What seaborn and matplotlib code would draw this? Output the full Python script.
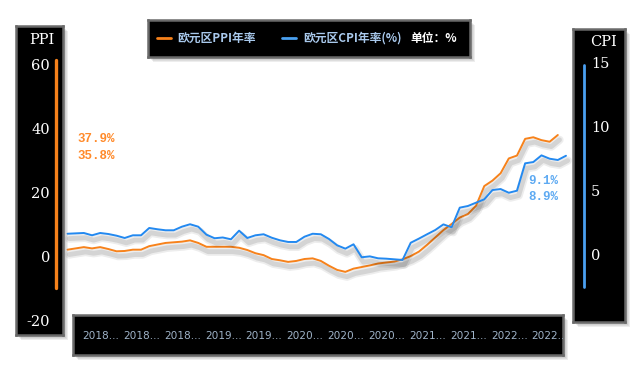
import numpy as np
import pandas as pd
import matplotlib
matplotlib.use("Agg")
import matplotlib.pyplot as plt
import matplotlib.patheffects as pe
from matplotlib.patches import Rectangle
from matplotlib.lines import Line2D
import seaborn as sns

# monthly data, Jul 2017 .. Aug 2022
months = pd.date_range("2017-07-01", "2022-08-01", freq="MS").strftime("%Y-%m").tolist()
ppi = [2.2, 2.6, 3.0, 2.6, 3.0, 2.4, 1.7, 1.8, 2.2, 2.2,
       3.3, 3.8, 4.3, 4.5, 4.7, 5.1, 4.3, 3.1, 3.1, 3.1,
       3.1, 2.8, 2.1, 1.1, 0.5, -0.7, -1.1, -1.6, -1.3, -0.7,
       -0.5, -1.3, -2.8, -4.1, -4.7, -3.7, -3.2, -2.7, -2.1, -1.8,
       -1.5, -0.8, 0.2, 1.6, 3.7, 6.0, 8.3, 10.2, 12.2, 13.3,
       15.9, 22.0, 23.7, 26.0, 30.6, 31.5, 36.7, 37.2, 36.3, 35.8,
       37.9, np.nan]
cpi = [1.79, 1.82, 1.85, 1.67, 1.85, 1.77, 1.64, 1.46, 1.67, 1.67,
       2.24, 2.14, 2.06, 2.06, 2.34, 2.53, 2.34, 1.72, 1.44, 1.50,
       1.36, 2.03, 1.46, 1.67, 1.75, 1.48, 1.28, 1.15, 1.15, 1.56,
       1.79, 1.75, 1.38, 0.89, 0.63, 0.97, -0.04, 0.03, -0.12, -0.15,
       -0.20, -0.25, 1.09, 1.41, 1.75, 2.08, 2.52, 2.29, 3.82, 3.95,
       4.21, 4.47, 5.19, 5.27, 4.98, 5.14, 7.27, 7.37, 7.89, 7.63,
       7.53, 7.86]
ppi_latest = ["37.9%", "35.8%"]
cpi_latest = ["9.1%", "8.9%"]
legend_labels = ["欧元区PPI年率", "欧元区CPI年率(%)"]
unit_label = "单位：%"
ppi_ticks = [60, 40, 20, 0, -20]
cpi_ticks = [15, 10, 5, 0]

df = pd.DataFrame({"month": months, "ppi": ppi, "cpi": cpi})
df["idx"] = np.arange(len(df))

sns.set_style("white")
plt.rcParams['font.family'] = ['Noto Sans CJK SC', 'DejaVu Sans']

ORANGE = '#f7821b'
BLUE = '#2389f0'
W, H = 638, 383


def box(x0, y0, x1, y1):
    return [x0 / W, 1 - y1 / H, (x1 - x0) / W, (y1 - y0) / H]


def shadow(fig, x0, y0, x1, y1):
    for k in (2, 3, 4, 5):
        fig.add_artist(Rectangle((x0 / W + k / W, 1 - (y1 + k) / H),
                                 (x1 - x0) / W, (y1 - y0) / H,
                                 transform=fig.transFigure, facecolor='#777777',
                                 edgecolor='none', alpha=0.13, zorder=2))


def panel(fig, x0, y0, x1, y1):
    shadow(fig, x0, y0, x1, y1)
    a = fig.add_axes(box(x0, y0, x1, y1), zorder=2.5)
    a.set_facecolor('black')
    for s in a.spines.values():
        s.set_color('#6a6a6a')
        s.set_linewidth(1.8)
    a.set_xticks([])
    a.set_yticks([])
    return a


fig = plt.figure(figsize=(6.38, 3.83), dpi=100)

# main plot (x: 67.5px + 8.172px per month, PPI: 0 at 256.75px, 3.2125px per unit)
ax = fig.add_axes(box(60, 55, 575, 320), zorder=0)
step, x0px, y0px, ppx = 8.172, 67.5, 256.75, 3.2125
xlim = ((60 - x0px) / step, (575 - x0px) / step)
ylim = ((y0px - 320) / ppx, (y0px - 55) / ppx)

shadow_fx = [pe.SimpleLineShadow(offset=(1.2, -3.5), shadow_color='black', alpha=0.07, linewidth=6),
             pe.SimpleLineShadow(offset=(1.2, -3.5), shadow_color='black', alpha=0.1, linewidth=3.5),
             pe.Normal()]

sns.lineplot(data=df, x='idx', y='ppi', ax=ax, color=ORANGE, linewidth=1.4)
ax2 = ax.twinx()
sns.lineplot(data=df, x='idx', y='cpi', ax=ax2, color=BLUE, linewidth=1.4)
for a, lim in ((ax, ylim), (ax2, (ylim[0] / 4, ylim[1] / 4))):
    a.set_xlim(xlim)
    a.set_ylim(lim)
    a.axis('off')
    for ln in a.lines:
        ln.set_path_effects(shadow_fx)

# latest values
mono = dict(family='Liberation Mono', weight='bold', fontsize=9)
fig.text(77 / W, 1 - 139.5 / H, ppi_latest[0], color='#ff8a2a', va='center', ha='left', **mono)
fig.text(77 / W, 1 - 156 / H, ppi_latest[1], color='#ff8a2a', va='center', ha='left', **mono)
fig.text(558 / W, 1 - 181 / H, cpi_latest[0], color='#5eaaf2', va='center', ha='right', **mono)
fig.text(558 / W, 1 - 197.5 / H, cpi_latest[1], color='#5eaaf2', va='center', ha='right', **mono)

serif = dict(family='DejaVu Serif', fontsize=10.5, color='white')

# left PPI panel
lp = panel(fig, 16, 26, 63, 335)
lp.set_ylim((y0px - 335) / ppx, (y0px - 26) / ppx)
lp.set_xlim(0, 1)
lp.set_yticks(ppi_ticks)
lp.set_yticklabels([str(t) for t in ppi_ticks], **serif)
lp.tick_params(axis='y', length=0, pad=-24.5)
lp.axvline(0.845, ymin=0.152, ymax=0.89, color=ORANGE, linewidth=2.4)
lp.text(0.55, 0.955, 'PPI', transform=lp.transAxes, ha='center', va='center', **serif)

# right CPI panel (0 at 254.5px, 12.767px per unit)
rp = panel(fig, 573, 29, 625, 322)
rp.set_ylim((254.5 - 322) / 12.767, (254.5 - 29) / 12.767)
rp.set_xlim(0, 1)
rp.yaxis.tick_right()
rp.set_yticks(cpi_ticks)
rp.set_yticklabels([str(t) for t in cpi_ticks], **serif)
rp.tick_params(axis='y', length=0, pad=-24.5)
rp.axvline(0.206, ymin=0.119, ymax=0.877, color='#4a9ff0', linewidth=2.0)
rp.text(0.59, 0.957, 'CPI', transform=rp.transAxes, ha='center', va='center', **serif)

# legend panel
lg = panel(fig, 148, 20, 470, 57)
handles = [Line2D([], [], color=ORANGE, linewidth=2), Line2D([], [], color='#4aa0f0', linewidth=2)]
leg = lg.legend(handles, legend_labels, loc='center left', bbox_to_anchor=(-0.005, 0.5),
                ncol=2, frameon=False, handlelength=1.2, handletextpad=0.55,
                columnspacing=2.2, prop=dict(family=['Noto Sans CJK SC', 'DejaVu Sans'],
                                            weight='bold', size=8.5))
for t in leg.get_texts():
    t.set_color('#a9c9ec')
lg.text((410 - 148) / 322, 0.5, unit_label, transform=lg.transAxes, color='white',
        ha='left', va='center', fontsize=8.5, weight='bold',
        family=['Noto Sans CJK SC', 'DejaVu Sans'])

# x axis panel
xb = panel(fig, 73, 315, 563, 355)
xb.set_xlim((73 - x0px) / step, (563 - x0px) / step)
xb.set_ylim(0, 1)
for i, m in zip(df['idx'].iloc[6::5], df['month'].iloc[6::5]):
    xb.text(i + 0.3, 0.47, m[:4] + '...', ha='right', va='center', color='#9fb3c8',
            fontsize=7.6, family='DejaVu Sans', clip_on=True)

fig.savefig('out.png', dpi=100)
